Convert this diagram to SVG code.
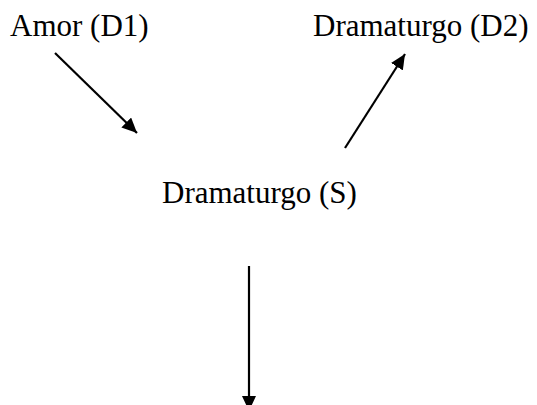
<svg xmlns="http://www.w3.org/2000/svg" width="537" height="405" viewBox="0 0 537 405">
<style>
text{font-family:"Liberation Serif","Times New Roman",serif;font-size:31px;fill:#000}
.c{stroke:#000;stroke-width:2.2;fill:none}
</style>
<defs>
<marker id="ah" markerUnits="userSpaceOnUse" markerWidth="16" markerHeight="14" refX="15" refY="7" orient="auto">
<path d="M0,0 L15,7 L0,14 Z" fill="#000"/>
</marker>
</defs>
<rect width="537" height="405" fill="#fff"/>
<g id="amor"><text x="10" y="36">Amor (D1)</text></g>
<g id="dramaturgo-d2"><text x="313" y="36">Dramaturgo (D2)</text></g>
<g id="dramaturgo-s"><text x="162" y="203">Dramaturgo (S)</text></g>
<g id="connectors">
<line class="c" x1="55" y1="53" x2="137" y2="133" marker-end="url(#ah)"/>
<line class="c" x1="345" y1="148" x2="405" y2="54" marker-end="url(#ah)"/>
<line class="c" x1="249" y1="266" x2="249" y2="411" marker-end="url(#ah)"/>
</g>
</svg>
